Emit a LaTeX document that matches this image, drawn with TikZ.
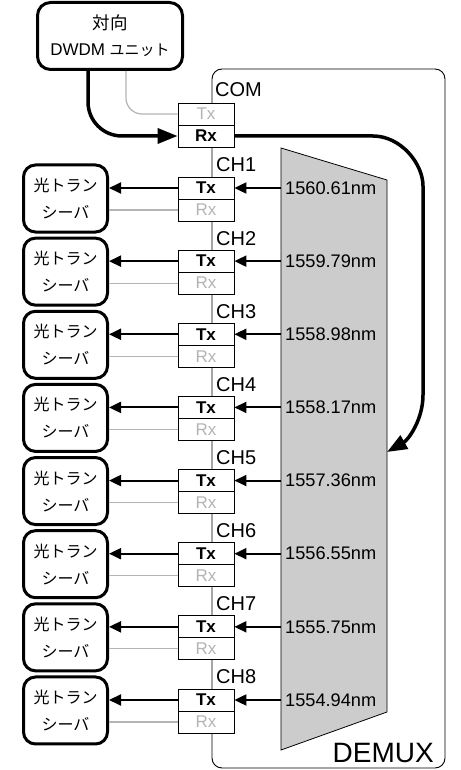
\documentclass[tikz,border=0pt]{standalone}
\usepackage{fontspec}
\setmainfont{Liberation Sans}
\newfontfamily\cjk{Noto Sans CJK JP}
\usetikzlibrary{arrows.meta}
\definecolor{lgray}{HTML}{B4B4B4}
\definecolor{fgray}{HTML}{CCCCCC}
\begin{document}
\begin{tikzpicture}[x=1pt,y=-1pt,
  port/.style={draw=black, line width=0.8pt, fill=white, minimum width=56pt, minimum height=22pt, inner sep=0pt, font=\fontsize{17}{18}\selectfont},
  trx/.style={draw, line width=3pt, rounded corners=12pt, minimum width=84pt, minimum height=67pt, inner sep=0pt, align=center, font=\cjk\fontsize{16}{27}\selectfont},
  chlabel/.style={anchor=west, inner sep=0pt, font=\fontsize{20}{22}\selectfont},
  wlabel/.style={anchor=west, inner sep=0pt, font=\fontsize{18.2}{20}\selectfont},
  bigarrow/.style={line width=3.5pt, -{Triangle[length=20pt,width=15pt]}},
  charrow/.style={line width=2pt, -{Triangle[length=12pt,width=11pt]}},
  grayline/.style={draw=lgray, line width=1.2pt}
]
\useasboundingbox (0,0) rectangle (460,770);
% container
\draw[line width=0.9pt, rounded corners=10pt] (212,69) rectangle (445,768);
% filter
\draw[fill=fgray, line width=0.8pt] (281,148) -- (387,180) -- (387,712) -- (281,750) -- cycle;
\node[anchor=south east, inner sep=0pt, font=\fontsize{28}{30}\selectfont] (demux) at (434,763) {DEMUX};
% top unit
\node[draw, line width=3pt, rounded corners=13pt, minimum width=145pt, minimum height=67pt, inner sep=0pt, align=center, font=\fontsize{17}{26}\selectfont] (dwdm) at (110,36) {{\cjk\fontsize{17.5}{26}\selectfont 対向}\\DWDM {\cjk\fontsize{15}{26}\selectfont ユニット}};
% COM port
\node[chlabel] (com) at (215,90) {COM};
\node[port, text=lgray] (tx0) at (206,114) {Tx};
\node[port] (rx0) at (206,136) {\textbf{Rx}};
\draw[grayline, rounded corners=16pt] ([xshift=16pt]dwdm.south) |- (tx0.west);
\draw[bigarrow, rounded corners=34pt] ([xshift=-22pt]dwdm.south) |- (rx0.west);
\coordinate (dm) at (387,452);
\draw[bigarrow] (rx0.east) -- (373,136) .. controls (400.6,136) and (423,163.4) .. (423,186) -- (423,395) .. controls (423,420) and (408,440) .. (dm);
% channels
\foreach \k/\w in {1/1560.61,2/1559.79,3/1558.98,4/1558.17,5/1557.36,6/1556.55,7/1555.75,8/1554.94}{
  \pgfmathsetmacro\t{188+73.14*(\k-1)}
  \node[chlabel] (ch\k) at (216,{\t-23}) {CH\k};
  \node[port] (tx\k) at (206,\t) {\textbf{Tx}};
  \node[port, text=lgray] (rx\k) at (206,{\t+22}) {Rx};
  \node[trx] (tr\k) at (65.5,{\t+10.5}) {光トラン\\シーバ};
  \coordinate (f\k) at (281,\t);
  \node[wlabel] (w\k) at (285,\t) {\w nm};
  \draw[charrow] (f\k) -- (tx\k.east);
  \draw[charrow] (tx\k.west) -- (tx\k.west -| tr\k.east);
  \draw[grayline] (rx\k.west) -- (rx\k.west -| tr\k.east);
}
\end{tikzpicture}
\end{document}
